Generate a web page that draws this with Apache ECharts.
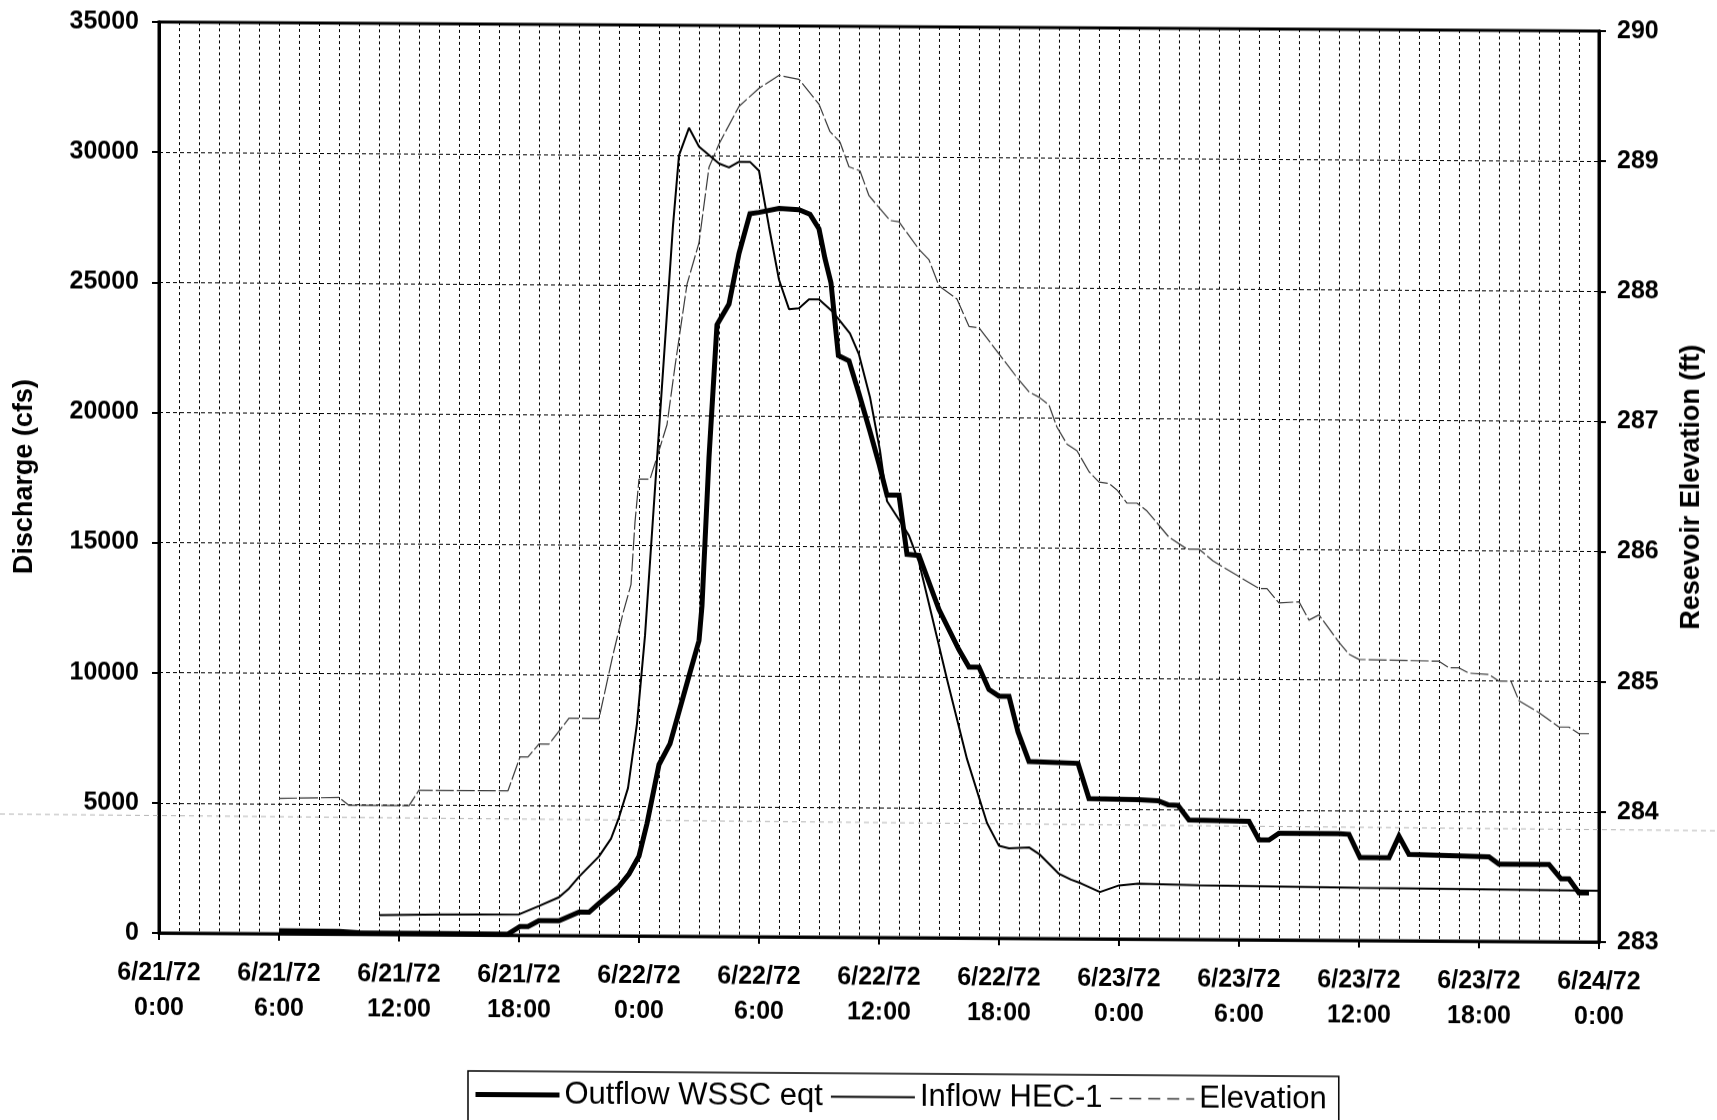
<!DOCTYPE html>
<html>
<head>
<meta charset="utf-8">
<script src="https://cdn.jsdelivr.net/npm/echarts/dist/echarts.min.js"></script>
<style>
html, body { margin: 0; padding: 0; background: #fff; overflow: hidden; }
#chart { width: 1717px; height: 1120px; transform: skewY(0.36deg); transform-origin: 0 0; }
</style>
</head>
<body>
<div id="chart"></div>
<script>
// ---- tick labels (x axis, every 6 hours from 6/21/72 0:00) ----
const tickLabels = [
  '6/21/72\n0:00', '6/21/72\n6:00', '6/21/72\n12:00', '6/21/72\n18:00',
  '6/22/72\n0:00', '6/22/72\n6:00', '6/22/72\n12:00', '6/22/72\n18:00',
  '6/23/72\n0:00', '6/23/72\n6:00', '6/23/72\n12:00', '6/23/72\n18:00',
  '6/24/72\n0:00'
];

// ---- Outflow WSSC eqt (hours after 6/21/72 0:00, cfs) ----
const outflowHours = [6, 9, 10, 17.45, 18.05, 18.45, 19, 20, 21, 21.5,
  22, 23, 23.5, 24, 24.4, 25, 25.55, 26.5, 27, 27.15,
  27.5, 27.9, 28.5, 29, 29.55, 30, 31, 32, 32.55, 33,
  33.3, 33.6, 33.97, 34.5, 35, 35.55, 36, 36.4, 37, 37.4,
  38, 39, 40, 40.5, 41, 41.5, 42, 42.5, 42.95, 43.5,
  45.95, 46.5, 48.95, 49.95, 50.45, 50.95, 51.5, 54.5, 55, 55.5,
  56, 59, 59.5, 60.05, 61.5, 62, 62.5, 64, 66.5, 67,
  69.5, 70.1, 70.5, 71, 71.5];
const outflowCfs = [120, 110, 60, 40, 340, 340, 565, 565, 900, 900,
  1240, 1900, 2380, 3070, 4320, 6590, 7390, 10000, 11360, 12700,
  18400, 23500, 24300, 26250, 27780, 27830, 27990, 27940, 27770, 27210,
  26070, 25140, 22350, 22150, 20890, 19440, 18200, 17000, 17000, 14730,
  14690, 12620, 11070, 10410, 10410, 9550, 9300, 9300, 7930, 6800,
  6740, 5390, 5360, 5320, 5170, 5150, 4590, 4550, 3840, 3840,
  4100, 4100, 4080, 3190, 3190, 4020, 3320, 3290, 3250, 2970,
  2970, 2420, 2420, 1880, 1880];

// ---- Inflow HEC-1 (hours, cfs) ----
const inflowHours = [11, 14, 18, 19, 20, 20.5, 21, 22, 22.6, 23,
  23.45, 23.9, 24.3, 24.7, 25.2, 25.7, 26, 26.5, 27, 28,
  28.5, 29, 29.55, 30, 30.5, 31, 31.5, 32, 32.5, 33,
  33.7, 34.55, 35, 35.55, 36.05, 36.4, 37, 37.5, 38, 38.7,
  39.4, 40.4, 41.4, 42, 42.5, 43.5, 44.05, 45, 45.6, 46.1,
  47.05, 48, 48.95, 52, 60, 66, 72];
const inflowCfs = [740, 780, 800, 1130, 1470, 1810, 2260, 3050, 3730, 4550,
  5680, 8160, 11540, 16060, 21700, 27300, 30000, 31060, 30340, 29700,
  29550, 29770, 29770, 29430, 27280, 25250, 24120, 24160, 24500, 24500,
  24020, 23200, 22390, 20760, 18710, 16770, 16060, 15450, 14430, 12190,
  9940, 6880, 4430, 3550, 3460, 3500, 3220, 2490, 2270, 2130,
  1800, 2060, 2130, 2080, 2030, 2000, 1970];

// ---- Reservoir elevation (hours, ft) ----
const elevHours = [6, 9, 9.5, 12.5, 13, 17.45, 18.05, 18.45, 19, 19.5,
  20.5, 22, 22.7, 23.2, 23.6, 23.8, 24, 24.55, 25, 25.4,
  25.8, 26.4, 27, 27.5, 28, 29, 30, 31, 32, 33,
  33.55, 34.05, 34.5, 35.05, 35.5, 36.05, 36.55, 37, 38, 38.5,
  39, 39.9, 40.5, 41, 42, 42.95, 43.5, 44, 44.5, 44.9,
  45.4, 45.9, 46.5, 47, 47.5, 47.9, 48.4, 48.9, 49.4, 50.5,
  51.4, 52, 52.7, 53.9, 55, 55.4, 56, 57, 57.5, 58,
  59, 59.5, 60, 64, 64.5, 65, 65.5, 66.5, 67, 67.6,
  68, 69, 70, 70.5, 71, 71.5];
const elevFt = [284.04, 284.05, 283.99, 283.99, 284.11, 284.11, 284.37, 284.37, 284.47, 284.47,
  284.67, 284.67, 285.16, 285.48, 285.70, 286.18, 286.51, 286.51, 286.73, 286.93,
  287.38, 288.01, 288.33, 288.91, 289.09, 289.38, 289.52, 289.62, 289.59, 289.40,
  289.19, 289.11, 288.92, 288.89, 288.70, 288.60, 288.51, 288.50, 288.29, 288.21,
  288.01, 287.91, 287.70, 287.69, 287.49, 287.30, 287.20, 287.16, 287.10, 286.93,
  286.80, 286.75, 286.59, 286.51, 286.50, 286.45, 286.35, 286.35, 286.29, 286.09,
  286.00, 286.00, 285.91, 285.80, 285.70, 285.70, 285.59, 285.60, 285.46, 285.50,
  285.29, 285.20, 285.16, 285.15, 285.10, 285.10, 285.06, 285.05, 285.00, 285.00,
  284.85, 284.76, 284.65, 284.65, 284.60, 284.60];

const zip = (xs, ys) => xs.map((x, i) => [x, ys[i]]);

const FONT = '"Liberation Sans", Arial, sans-serif';
const gridDash = { color: '#000', width: 1, type: [3, 3] };

const chart = echarts.init(document.getElementById('chart'), null, { renderer: 'canvas' });
chart.setOption({
  animation: false,
  backgroundColor: '#fff',
  textStyle: { fontFamily: FONT, color: '#000' },
  grid: {
    left: 159, right: 118, top: 21, bottom: 188,
    show: true, borderColor: '#000', borderWidth: 3, backgroundColor: 'transparent'
  },
  graphic: [
    {
      // faint stray scan line that crosses the whole page in the reference
      type: 'line', silent: true, z: 0,
      shape: { x1: 0, y1: 814, x2: 1717, y2: 820 },
      style: { stroke: '#b5b5b5', lineWidth: 1, lineDash: [5, 4] }
    }
  ],
  legend: {
    left: 468, top: 1068,
    orient: 'horizontal',
    itemWidth: 84, itemHeight: 14, itemGap: 7,
    padding: [8, 12, 12, 5],
    borderColor: '#000', borderWidth: 1.5,
    itemStyle: { opacity: 0 },
    textStyle: { fontFamily: FONT, fontSize: 31, color: '#000' },
    data: [
      { name: 'Outflow WSSC eqt', lineStyle: { width: 5, color: '#000', type: 'solid' } },
      { name: 'Inflow HEC-1', lineStyle: { width: 2, color: '#000', type: 'solid' } },
      { name: 'Elevation', lineStyle: { width: 1.5, color: '#333', type: [12, 7] } }
    ]
  },
  xAxis: {
    type: 'value', min: 0, max: 72, interval: 6,
    axisLine: { show: true, lineStyle: { color: '#000', width: 2.5 } },
    axisTick: { show: true, length: 7, lineStyle: { color: '#000', width: 2 } },
    axisLabel: {
      margin: 23, fontSize: 25, fontWeight: 'bold', lineHeight: 35, color: '#000', fontFamily: FONT,
      formatter: v => tickLabels[Math.round(v / 6)] || ''
    },
    splitLine: { show: true, lineStyle: gridDash },
    minorTick: { show: false, splitNumber: 6 },
    minorSplitLine: { show: true, lineStyle: gridDash }
  },
  yAxis: [
    {
      type: 'value', min: 0, max: 35000, interval: 5000, position: 'left',
      name: 'Discharge (cfs)', nameLocation: 'middle', nameGap: 121, nameRotate: 90,
      nameTextStyle: { fontFamily: FONT, fontSize: 27, fontWeight: 'bold', color: '#000' },
      axisLine: { show: true, lineStyle: { color: '#000', width: 3 } },
      axisTick: { show: true, length: 7, lineStyle: { color: '#000', width: 2 } },
      axisLabel: { margin: 20, fontSize: 25, fontWeight: 'bold', color: '#000', fontFamily: FONT, formatter: v => String(v) },
      splitLine: { show: true, lineStyle: { color: '#000', width: 1, type: [4, 3] } }
    },
    {
      type: 'value', min: 283, max: 290, interval: 1, position: 'right',
      name: 'Resevoir Elevation (ft)', nameLocation: 'middle', nameGap: 79, nameRotate: 90,
      nameTextStyle: { fontFamily: FONT, fontSize: 27, fontWeight: 'bold', color: '#000' },
      axisLine: { show: true, lineStyle: { color: '#000', width: 3 } },
      axisTick: { show: true, length: 7, lineStyle: { color: '#000', width: 2 } },
      axisLabel: { margin: 18, fontSize: 25, fontWeight: 'bold', color: '#000', fontFamily: FONT, formatter: v => String(v) },
      splitLine: { show: false }
    }
  ],
  series: [
    {
      name: 'Elevation', type: 'line', yAxisIndex: 1, symbol: 'none', z: 2,
      lineStyle: { color: '#3a3a3a', width: 1.2, type: [18, 3] },
      itemStyle: { color: '#3a3a3a' },
      data: zip(elevHours, elevFt)
    },
    {
      name: 'Inflow HEC-1', type: 'line', yAxisIndex: 0, symbol: 'none', z: 3,
      lineStyle: { color: '#000', width: 2 },
      itemStyle: { color: '#000' },
      data: zip(inflowHours, inflowCfs)
    },
    {
      name: 'Outflow WSSC eqt', type: 'line', yAxisIndex: 0, symbol: 'none', z: 4,
      lineStyle: { color: '#000', width: 5, join: 'miter' },
      itemStyle: { color: '#000' },
      data: zip(outflowHours, outflowCfs)
    }
  ]
});
</script>
</body>
</html>
